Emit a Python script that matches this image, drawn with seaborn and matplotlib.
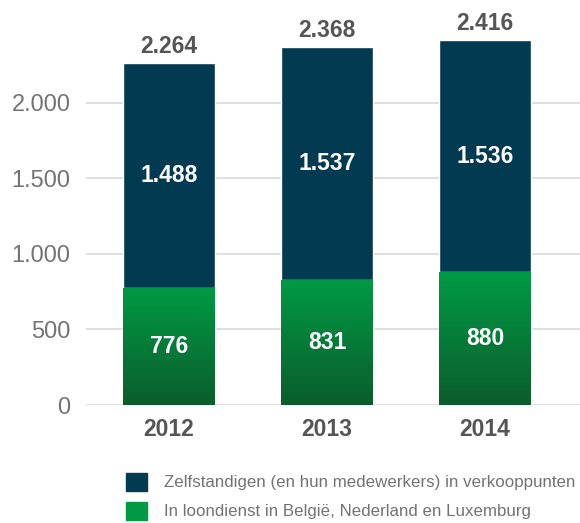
import matplotlib
matplotlib.use("Agg")
import matplotlib.pyplot as plt
import seaborn as sns
import numpy as np
import pandas as pd
from matplotlib.colors import LinearSegmentedColormap
from matplotlib.patches import Patch
from matplotlib.ticker import FuncFormatter

# data
years = ["2012", "2013", "2014"]
loondienst = [776, 831, 880]
zelfstandigen = [1488, 1537, 1536]
totals = [a + b for a, b in zip(loondienst, zelfstandigen)]

label_zelf = "Zelfstandigen (en hun medewerkers) in verkooppunten"
label_loon = "In loondienst in België, Nederland en Luxemburg"

navy = "#023a51"
green_top = "#009a44"
green_bottom = "#0b5d2c"

def dutch(v):
    return f"{int(v):,}".replace(",", ".")

sns.set_theme(style="white")
plt.rcParams["font.family"] = ["Liberation Sans", "DejaVu Sans"]

df = pd.DataFrame({"jaar": years, "loon": loondienst, "totaal": totals})

fig = plt.figure(figsize=(5.8, 5.23), dpi=100)
ax = fig.add_axes([86 / 580, 1 - 405 / 523, 1 - 86 / 580, 405 / 523])

# stacked bars: full totals in navy, green on top of them from 0
sns.barplot(data=df, x="jaar", y="totaal", color=navy, width=0.58,
            saturation=1, ax=ax, zorder=2)
n_before = len(ax.patches)
sns.barplot(data=df, x="jaar", y="loon", color=green_top, width=0.58,
            saturation=1, ax=ax, zorder=3)
green_patches = ax.patches[n_before:]

# vertical gradient inside the green bars
cmap = LinearSegmentedColormap.from_list("g", [green_bottom, green_top])
grad = np.linspace(0, 1, 256).reshape(-1, 1)
for p in green_patches:
    x0, w, h = p.get_x(), p.get_width(), p.get_height()
    im = ax.imshow(grad, cmap=cmap, origin="lower", aspect="auto",
                   extent=[x0, x0 + w, 0, h], zorder=3.5)
    im.set_clip_path(p)

ax.set_xlim(-0.525, 2.6)
ax.set_ylim(0, 2682)
ax.set_yticks([0, 500, 1000, 1500, 2000])
ax.yaxis.set_major_formatter(FuncFormatter(lambda v, _: dutch(v)))
ax.yaxis.grid(True, color="#d9d9d9", linewidth=1.2, zorder=0)
ax.set_axisbelow(True)
for s in ax.spines.values():
    s.set_visible(False)
ax.set_xlabel("")
ax.set_ylabel("")
ax.tick_params(axis="y", length=0, pad=11, labelsize=17, labelcolor="#737373")
ax.tick_params(axis="x", length=0, pad=9, labelsize=16.5, labelcolor="#555555")
for t in ax.get_xticklabels():
    t.set_fontweight("bold")

# value labels
for i in range(len(years)):
    ax.text(i, loondienst[i] / 2, dutch(loondienst[i]), ha="center", va="center",
            color="white", fontsize=16.5, fontweight="bold", zorder=5)
    ax.text(i, loondienst[i] + zelfstandigen[i] / 2, dutch(zelfstandigen[i]),
            ha="center", va="center", color="white", fontsize=16.5,
            fontweight="bold", zorder=5)
    ax.annotate(dutch(totals[i]), (i, totals[i]), xytext=(0, 4),
                textcoords="offset points", ha="center", va="bottom",
                color="#555555", fontsize=16.5, fontweight="bold")

handles = [Patch(color=navy, label=label_zelf), Patch(color=green_top, label=label_loon)]
fig.legend(handles=handles, loc="upper left", bbox_to_anchor=(119 / 580, 1 - 466 / 523),
           frameon=False, fontsize=12.2, labelcolor="#737373",
           handlelength=1.25, handleheight=1.25, handletextpad=1.0,
           labelspacing=0.65, borderaxespad=0)

fig.savefig("out.png", dpi=100)
